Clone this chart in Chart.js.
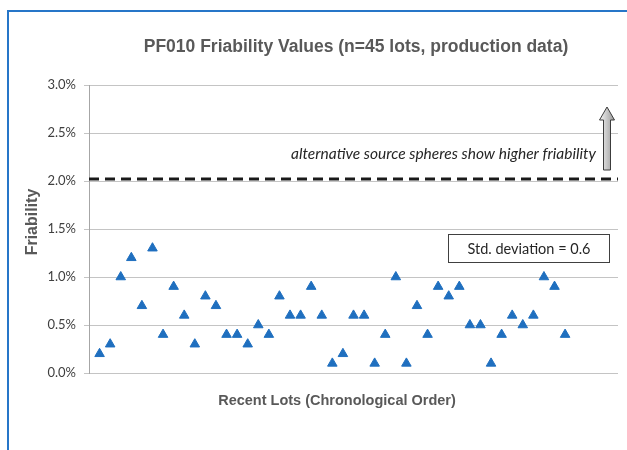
<!DOCTYPE html>
<html><head><meta charset="utf-8">
<script src="https://cdn.jsdelivr.net/npm/chart.js@4.4.0/dist/chart.umd.min.js"></script>
<style>
html,body{margin:0;padding:0;background:#fff;overflow:hidden;}
canvas{display:block;}
</style></head><body>
<canvas id="c" width="627" height="450"></canvas>
<script>
// Data (friability in %)
const friability = [0.2, 0.3, 1.0, 1.2, 0.7, 1.3, 0.4, 0.9, 0.6, 0.3,
                    0.8, 0.7, 0.4, 0.4, 0.3, 0.5, 0.4, 0.8, 0.6, 0.6,
                    0.9, 0.6, 0.1, 0.2, 0.6, 0.6, 0.1, 0.4, 1.0, 0.1,
                    0.7, 0.4, 0.9, 0.8, 0.9, 0.5, 0.5, 0.1, 0.4, 0.6,
                    0.5, 0.6, 1.0, 0.9, 0.4];
const limitLevel = 2.02;
const yTicks = [0, 0.5, 1.0, 1.5, 2.0, 2.5, 3.0];
const titleText = 'PF010 Friability Values (n=45 lots, production data)';
const xTitle = 'Recent Lots (Chronological Order)';
const yTitle = 'Friability';
const noteText = 'alternative source spheres show higher friability';
const stdText = 'Std. deviation = 0.6';

const points = friability.map((v, i) => ({x: i + 1, y: v}));

const overlay = {
  id: 'overlay',
  beforeDraw(chart) {
    const ctx = chart.ctx;
    ctx.save();
    ctx.fillStyle = '#ffffff';
    ctx.fillRect(0, 0, chart.width, chart.height);
    ctx.strokeStyle = '#2676c8';
    ctx.lineWidth = 2;
    ctx.beginPath();
    ctx.moveTo(8, chart.height);
    ctx.lineTo(8, 11);
    ctx.lineTo(chart.width, 11);
    ctx.stroke();
    ctx.restore();
  },
  afterDraw(chart) {
    const ctx = chart.ctx;
    ctx.save();
    // main title
    ctx.fillStyle = '#595959';
    ctx.textAlign = 'center';
    ctx.textBaseline = 'middle';
    ctx.font = 'bold 17.5px "Liberation Sans", Arial, sans-serif';
    ctx.fillText(titleText, 356, 47);
    // x title
    ctx.font = 'bold 14.5px "Liberation Sans", Arial, sans-serif';
    ctx.fillText(xTitle, 337, 401);
    // y title
    ctx.save();
    ctx.translate(33, 222);
    ctx.rotate(-Math.PI / 2);
    ctx.font = 'bold 16px "Liberation Sans", Arial, sans-serif';
    ctx.fillText(yTitle, 0, 0);
    ctx.restore();
    // note
    ctx.fillStyle = '#262626';
    ctx.textAlign = 'right';
    ctx.font = 'italic 15.5px Lato, "Open Sans", sans-serif';
    ctx.fillText(noteText, 596, 154);
    // std box
    ctx.fillStyle = '#ffffff';
    ctx.fillRect(448.5, 234.5, 161, 28);
    ctx.strokeStyle = '#404040';
    ctx.lineWidth = 1;
    ctx.strokeRect(448.5, 234.5, 161, 28);
    ctx.fillStyle = '#262626';
    ctx.textAlign = 'center';
    ctx.font = '14.5px Lato, "Open Sans", sans-serif';
    ctx.fillText(stdText, 529, 249);
    // arrow
    const g = ctx.createLinearGradient(600, 0, 614, 0);
    g.addColorStop(0, '#f2f2f2');
    g.addColorStop(1, '#9a9a9a');
    ctx.beginPath();
    ctx.moveTo(607, 107);
    ctx.lineTo(614.5, 120);
    ctx.lineTo(610.5, 120);
    ctx.lineTo(610.5, 170);
    ctx.lineTo(603.5, 170);
    ctx.lineTo(603.5, 120);
    ctx.lineTo(599.5, 120);
    ctx.closePath();
    ctx.fillStyle = g;
    ctx.fill();
    ctx.strokeStyle = '#3c3c3c';
    ctx.stroke();
    ctx.restore();
  }
};

new Chart(document.getElementById('c'), {
  data: {
    datasets: [
      {
        type: 'line',
        data: [{x: 0, y: limitLevel}, {x: 50, y: limitLevel}],
        borderColor: '#1a1a1a',
        borderWidth: 3,
        borderDash: [10, 6],
        pointRadius: 0,
        order: 2
      },
      {
        type: 'scatter',
        data: points,
        pointStyle: 'triangle',
        pointRadius: 5.5,
        backgroundColor: '#1f6fbf',
        borderColor: '#1f6fbf',
        borderWidth: 1,
        order: 1
      }
    ]
  },
  options: {
    responsive: false,
    animation: false,
    devicePixelRatio: 1,
    layout: {padding: {left: 0, top: 85, right: 9, bottom: 77}},
    plugins: {legend: {display: false}, tooltip: {enabled: false}, title: {display: false}},
    scales: {
      x: {type: 'linear', min: 0, max: 50, display: false},
      y: {
        type: 'linear', min: 0, max: 3,
        afterFit(scale) { scale.width = 89; scale.paddingTop = 0; scale.paddingBottom = 0; },
        afterBuildTicks(scale) { scale.ticks = yTicks.map(v => ({value: v})); },
        ticks: {
          callback: v => v.toFixed(1) + '%',
          color: '#404040',
          font: {family: 'Lato, "Open Sans", sans-serif', size: 13},
          padding: 8
        },
        grid: {color: '#c4c4c4', lineWidth: 1, tickLength: 5, drawTicks: true},
        border: {display: true, color: '#a6a6a6', width: 1}
      }
    }
  },
  plugins: [overlay]
});
</script>
</body></html>
